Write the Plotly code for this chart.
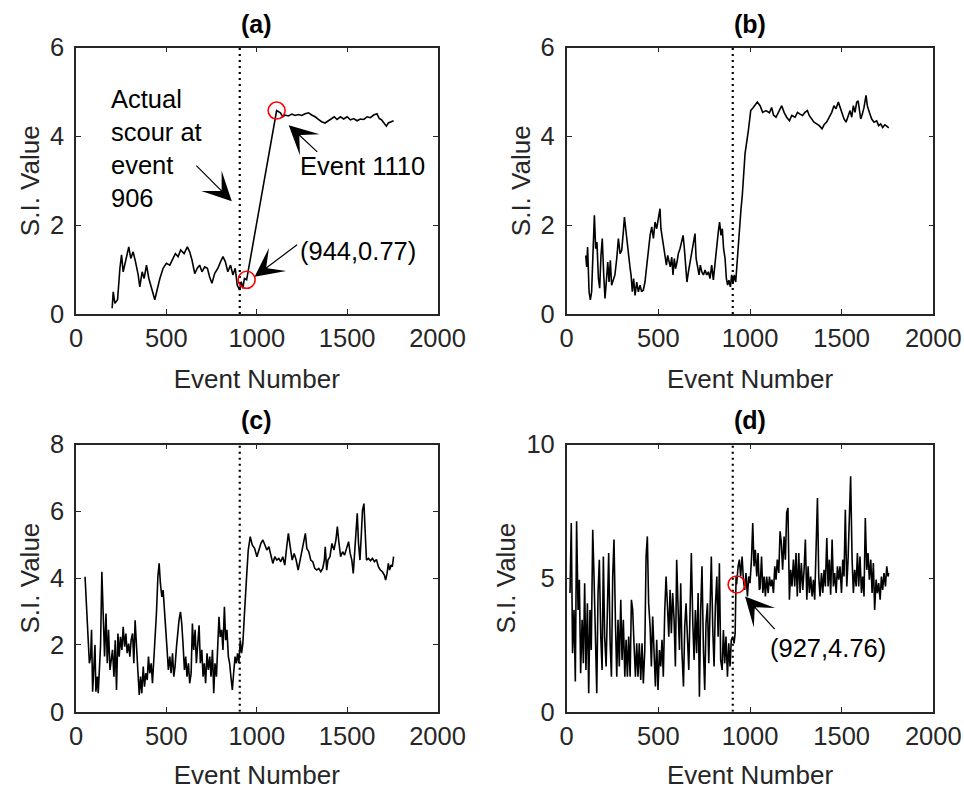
import plotly.graph_objects as go

# ---------------- data ----------------
scour_event = 906

a_x = [200, 206, 215, 230, 243, 252, 261, 274, 292, 303, 316, 329, 344, 353, 366, 377, 390, 403, 418, 436,
       451, 464, 482, 500, 519, 537, 550, 565, 579, 598, 616, 629, 642, 657, 671, 684, 697, 712, 727, 739,
       752, 767, 785, 800, 813, 826, 840, 855, 868, 881, 892, 905, 914, 923, 932, 944,
       1110, 1131, 1144, 1157, 1175, 1194, 1212, 1231, 1249, 1268, 1286, 1304, 1323, 1341, 1359, 1378, 1396,
       1415, 1429, 1444, 1463, 1481, 1500, 1518, 1536, 1555, 1573, 1592, 1610, 1629, 1647, 1665, 1678, 1691,
       1706, 1717, 1728, 1742, 1757]
a_y = [0.13, 0.50, 0.24, 0.32, 1.03, 1.33, 0.95, 1.18, 1.51, 1.25, 1.40, 1.18, 0.88, 0.61, 0.95, 0.80, 1.10, 0.80, 0.58, 0.32,
       0.58, 0.80, 1.03, 1.14, 1.10, 1.25, 1.36, 1.29, 1.44, 1.36, 1.51, 1.40, 1.21, 0.91, 1.03, 1.10, 0.95, 1.06, 1.03, 0.84,
       0.69, 0.91, 1.03, 1.18, 1.29, 1.18, 0.95, 1.10, 0.88, 1.03, 0.65, 0.54, 0.73, 0.58, 0.80, 0.77,
       4.58, 4.53, 4.44, 4.48, 4.46, 4.50, 4.47, 4.49, 4.47, 4.51, 4.53, 4.48, 4.44, 4.38, 4.33, 4.30, 4.35,
       4.40, 4.44, 4.38, 4.44, 4.39, 4.44, 4.37, 4.40, 4.35, 4.39, 4.38, 4.44, 4.42, 4.48, 4.51, 4.40, 4.37,
       4.29, 4.23, 4.30, 4.33, 4.35]

b_x = [104, 109, 114, 122, 129, 136, 143, 151, 158, 165, 173, 180, 187, 194, 202, 209, 216, 224, 231, 238,
       245, 254, 263, 273, 282, 291, 300, 309, 315, 322, 329, 336, 345, 351, 358, 365, 373, 382, 391, 400,
       409, 418, 427, 436, 445, 455, 464, 473, 482, 491, 500, 509, 514, 522, 529, 536, 544, 551, 558, 565,
       573, 580, 587, 594, 602, 609, 618, 627, 635, 642, 649, 656, 664, 673, 682, 691, 700, 706, 715, 722,
       729, 737, 746, 755, 764, 773, 782, 791, 800, 809, 818, 827, 834, 842, 849, 856, 864, 871, 878, 885,
       893, 900, 907, 914, 922, 929, 936, 944, 951, 958, 973, 991, 1004, 1018, 1040,
       1055, 1069, 1087, 1106, 1118, 1128, 1142, 1155, 1173, 1186, 1200, 1215, 1228, 1246, 1259, 1273, 1287,
       1300, 1313, 1323, 1336, 1349, 1364, 1378, 1393, 1404, 1418, 1433, 1446, 1458, 1469, 1482, 1491, 1502,
       1513, 1524, 1535, 1546, 1555, 1564, 1573, 1582, 1590, 1597, 1604, 1613, 1622, 1633, 1640, 1651, 1664,
       1677, 1691, 1702, 1713, 1724, 1735, 1746, 1757]
b_y = [1.32, 1.06, 1.51, 0.50, 0.32, 0.50, 1.32, 2.22, 1.47, 1.62, 0.80, 0.58, 1.32, 1.70, 0.88, 0.35, 0.72, 1.17, 0.72, 1.21,
       0.65, 0.80, 0.88, 1.25, 1.70, 1.36, 1.43, 1.85, 2.18, 1.92, 1.62, 1.47, 1.06, 0.88, 0.50, 0.80, 0.42, 0.72, 0.50, 0.65,
       0.50, 0.54, 0.72, 1.06, 1.47, 1.77, 1.96, 1.70, 2.07, 1.92, 2.15, 2.37, 1.92, 1.70, 1.47, 1.32, 1.10, 1.32, 1.14, 1.06,
       1.28, 0.88, 1.25, 1.02, 1.17, 1.36, 1.47, 1.62, 1.77, 1.47, 0.95, 0.72, 0.95, 1.17, 1.32, 1.62, 1.81, 1.25, 1.06, 0.88,
       1.10, 0.95, 0.88, 0.99, 0.88, 0.95, 0.80, 1.10, 0.77, 1.17, 1.62, 1.85, 2.07, 1.77, 1.92, 1.47, 1.25, 0.80, 0.65, 0.76,
       0.61, 0.88, 0.69, 0.88, 0.72, 1.17, 1.55, 2.00, 2.37, 2.67, 3.61, 4.13, 4.58, 4.65, 4.77,
       4.69, 4.54, 4.58, 4.53, 4.65, 4.48, 4.43, 4.54, 4.69, 4.54, 4.43, 4.35, 4.47, 4.43, 4.54, 4.50, 4.47,
       4.54, 4.58, 4.47, 4.39, 4.32, 4.28, 4.24, 4.17, 4.26, 4.32, 4.43, 4.54, 4.69, 4.62, 4.77, 4.65, 4.54,
       4.39, 4.32, 4.47, 4.58, 4.43, 4.69, 4.54, 4.77, 4.80, 4.54, 4.39, 4.50, 4.65, 4.92, 4.69, 4.54, 4.39,
       4.32, 4.35, 4.24, 4.28, 4.20, 4.26, 4.23, 4.19]

c_x = [50, 59, 66, 74, 81, 86, 92, 99, 105, 110, 118, 123, 129, 136, 143, 151, 158, 166, 173, 180,
       188, 195, 202, 210, 217, 224, 232, 239, 246, 254, 261, 269, 276, 283, 291, 298, 305, 313, 320, 327,
       335, 342, 350, 357, 364, 372, 379, 386, 394, 401, 408, 416, 423, 430, 438, 445, 453, 460, 467, 475,
       482, 489, 497, 504, 511, 519, 526, 534, 541, 548, 556, 563, 570, 578, 585, 592, 600, 607, 614, 622,
       629, 637, 644, 651, 659, 666, 673, 681, 688, 696, 703, 710, 717, 725, 732, 740, 747, 755, 762, 769,
       777, 784, 791, 798, 806, 813, 821, 828, 835, 843, 850, 857, 865, 872, 880, 887, 894, 901, 909, 916,
       923, 931, 938, 946, 953, 964, 975, 988, 1001, 1012, 1023, 1034, 1045, 1056, 1067, 1078, 1089, 1100,
       1111, 1122, 1133, 1144, 1155, 1166, 1175, 1185, 1196, 1207, 1218, 1229, 1240, 1251, 1262, 1269, 1277,
       1288, 1299, 1310, 1321, 1332, 1343, 1354, 1365, 1374, 1379, 1387, 1394, 1405, 1416, 1427, 1438, 1446,
       1453, 1464, 1475, 1486, 1497, 1508, 1517, 1526, 1534, 1541, 1548, 1556, 1563, 1571, 1578, 1585, 1593,
       1600, 1607, 1618, 1629, 1640, 1651, 1662, 1673, 1684, 1695, 1706, 1713, 1721, 1728, 1735, 1743, 1750, 1757]
c_y = [4.04, 3.14, 2.14, 1.45, 1.65, 2.45, 0.60, 1.25, 2.00, 0.60, 1.05, 0.55, 1.45, 2.00, 4.19, 2.45, 1.65, 2.94, 1.45, 2.45,
       1.25, 1.55, 1.85, 1.05, 2.14, 0.65, 2.34, 1.65, 2.24, 1.85, 2.54, 1.95, 2.34, 1.75, 2.04, 1.65, 2.14, 2.34, 1.45, 2.74,
       1.65, 1.25, 0.50, 1.05, 0.55, 1.35, 0.75, 1.15, 0.95, 1.65, 1.15, 1.45, 0.85, 1.45, 2.14, 2.94, 4.04, 4.44, 3.84, 3.44,
       3.64, 3.14, 2.34, 1.85, 1.25, 1.65, 1.15, 1.75, 1.05, 1.35, 1.95, 2.45, 2.74, 2.99, 2.64, 2.04, 1.25, 1.65, 1.05, 1.45,
       0.85, 1.15, 2.64, 1.85, 2.45, 1.45, 1.95, 2.59, 1.45, 1.85, 1.05, 1.45, 0.85, 1.75, 1.25, 1.65, 1.05, 1.85, 0.55, 1.45,
       1.05, 2.24, 2.84, 2.24, 2.45, 1.85, 3.14, 2.14, 2.45, 1.65, 1.45, 1.05, 0.65, 1.15, 1.65, 1.45, 1.75, 1.45, 2.14, 1.75,
       2.04, 2.84, 3.74, 4.24, 4.84, 5.24, 4.99, 4.89, 4.64, 4.84, 5.04, 5.14, 4.99, 4.84, 4.94, 4.69, 4.44, 4.64,
       4.54, 4.59, 4.49, 4.64, 4.39, 4.94, 5.34, 4.94, 4.54, 4.74, 4.54, 4.24, 4.54, 4.84, 5.09, 5.34, 4.89,
       4.79, 4.54, 4.49, 4.29, 4.24, 4.29, 4.19, 4.29, 4.54, 4.94, 4.24, 4.54, 4.64, 5.04, 4.84, 5.14, 5.54,
       5.14, 4.64, 4.79, 4.69, 4.89, 5.09, 4.74, 4.54, 4.14, 4.64, 5.24, 5.94, 5.04, 4.54, 5.24, 6.03, 6.23,
       5.14, 4.54, 4.59, 4.52, 4.59, 4.49, 4.56, 4.34, 4.24, 4.19, 4.09, 3.94, 4.14, 4.44, 4.24, 4.39, 4.34, 4.64]

d_x = [18, 25, 32, 40, 47, 54, 62, 69, 76, 84, 91, 98, 105, 113, 120, 127, 134, 142, 149, 156,
       164, 171, 178, 186, 193, 200, 207, 215, 222, 229, 237, 244, 251, 258, 266, 273, 280, 287, 295, 302,
       309, 317, 324, 331, 338, 346, 353, 360, 367, 375, 382, 389, 396, 404, 411, 418, 426, 433, 440, 447,
       455, 462, 469, 477, 484, 491, 498, 506, 513, 520, 527, 535, 542, 549, 557, 564, 571, 578, 586, 593,
       600, 608, 615, 622, 629, 637, 644, 651, 658, 666, 673, 680, 688, 695, 702, 709, 717, 724, 731, 738,
       746, 753, 760, 768, 775, 782, 789, 797, 804, 811, 819, 826, 833, 840, 848, 855, 862, 869, 877, 884,
       891, 898, 906, 913, 919, 924, 927, 935, 942, 949, 957, 964, 971, 978, 986, 993, 1000, 1008, 1015, 1022,
       1029, 1037, 1044, 1051, 1055, 1063, 1070, 1077, 1084, 1091, 1099, 1106, 1113, 1120, 1128, 1135, 1142,
       1149, 1157, 1164, 1171, 1178, 1186, 1193, 1200, 1207, 1215, 1222, 1229, 1237, 1244, 1251, 1258, 1266,
       1273, 1280, 1288, 1295, 1302, 1310, 1317, 1324, 1331, 1339, 1346, 1353, 1360, 1368, 1375, 1382, 1390,
       1397, 1404, 1411, 1419, 1426, 1433, 1440, 1448, 1455, 1462, 1470, 1477, 1484, 1491, 1499, 1506, 1513,
       1520, 1528, 1535, 1542, 1549, 1557, 1564, 1571, 1579, 1586, 1593, 1600, 1608, 1615, 1622, 1629, 1637,
       1644, 1651, 1659, 1666, 1673, 1680, 1688, 1695, 1702, 1710, 1717, 1724, 1731, 1739, 1746, 1753, 1757]
d_y = [4.44, 7.06, 2.19, 3.81, 1.13, 7.13, 3.81, 4.94, 1.44, 3.44, 1.81, 4.81, 1.56, 4.06, 0.69, 3.81, 2.31, 6.81, 5.06, 2.81,
       0.69, 4.44, 5.69, 2.81, 1.56, 5.81, 2.81, 1.69, 4.31, 5.94, 2.56, 1.31, 5.06, 6.44, 3.31, 1.31, 3.44, 1.69, 4.19, 1.94,
       3.44, 1.31, 2.69, 1.31, 2.81, 1.31, 4.19, 3.81, 2.56, 1.31, 2.56, 1.31, 2.56, 1.19, 2.56, 1.06, 2.31, 5.81, 6.56, 4.06,
       3.19, 1.69, 3.56, 2.44, 0.94, 2.69, 0.81, 2.31, 1.69, 2.69, 1.31, 3.81, 5.06, 4.06, 2.81, 4.56, 2.94, 4.44, 3.44, 1.69,
       5.69, 3.81, 2.31, 4.81, 2.19, 0.94, 3.19, 4.06, 2.56, 1.56, 3.81, 5.94, 3.31, 1.94, 3.81, 2.19, 4.44, 0.56, 3.81, 5.44,
       2.31, 0.81, 3.31, 4.06, 1.81, 4.44, 5.81, 3.06, 1.69, 3.94, 5.06, 2.81, 5.56, 1.94, 1.56, 3.06, 1.81, 2.81, 1.31, 2.56,
       1.69, 2.69, 2.81, 2.56, 2.94, 5.06, 4.76, 5.44, 5.69, 5.06, 5.81, 4.94, 4.56, 5.19, 4.31, 5.06, 4.81, 5.69, 7.06, 5.44,
       6.06, 5.06, 5.94, 4.56, 4.63, 5.81, 4.44, 5.06, 4.31, 5.06, 4.44, 5.06, 4.69, 4.94, 4.44, 5.44, 4.94,
       5.69, 5.19, 6.75, 6.31, 5.31, 6.56, 5.69, 7.44, 7.63, 4.19, 5.31, 4.69, 5.69, 4.69, 5.94, 4.31, 5.94,
       4.44, 5.56, 4.56, 5.31, 6.44, 4.19, 5.44, 4.44, 5.06, 4.31, 4.94, 4.19, 5.69, 8.00, 5.06, 4.31, 5.19,
       4.44, 5.31, 4.69, 6.50, 4.69, 5.69, 4.38, 6.44, 4.69, 5.19, 4.44, 5.44, 4.94, 5.44, 4.44, 5.69, 5.06,
       7.56, 4.69, 5.69, 6.94, 8.81, 5.69, 4.44, 5.31, 4.69, 5.94, 4.69, 5.81, 4.44, 5.06, 4.31, 7.25, 5.31,
       5.94, 4.94, 5.69, 4.44, 5.56, 3.81, 4.94, 4.44, 4.81, 4.19, 5.06, 4.56, 5.19, 4.69, 5.44, 5.06, 5.19]

x_ticks = [0, 500, 1000, 1500, 2000]
y_ticks = {"a": [0, 2, 4, 6], "b": [0, 2, 4, 6], "c": [0, 2, 4, 6, 8], "d": [0, 5, 10]}
y_max = {"a": 6, "b": 6, "c": 8, "d": 10}
panel_titles = ["(a)", "(b)", "(c)", "(d)"]
marked_a = ([944, 1110], [0.77, 4.58])
marked_d = ([927], [4.76])

# ---------------- figure ----------------
FONT = "Liberation Sans, Arial, sans-serif"
AX_COL = "#262626"

W, H = 964, 790


def px_x(px):
    return px / W


def px_y(py):
    return 1 - py / H


fig = go.Figure()

series = [("a", a_x, a_y, "x", "y"), ("b", b_x, b_y, "x2", "y2"),
          ("c", c_x, c_y, "x3", "y3"), ("d", d_x, d_y, "x4", "y4")]

for key, xs, ys, xr, yr in series:
    fig.add_trace(go.Scatter(x=xs, y=ys, mode="lines", line=dict(color="black", width=1.6),
                             xaxis=xr, yaxis=yr, showlegend=False, hoverinfo="skip"))
    fig.add_trace(go.Scatter(x=[scour_event, scour_event], y=[0, y_max[key]], mode="lines",
                             line=dict(color="black", width=2.2, dash="2px,4px"),
                             xaxis=xr, yaxis=yr, showlegend=False, hoverinfo="skip"))

fig.add_trace(go.Scatter(x=marked_a[0], y=marked_a[1], mode="markers",
                         marker=dict(symbol="circle-open", size=17, color="red", line=dict(width=1.6, color="red")),
                         xaxis="x", yaxis="y", showlegend=False, hoverinfo="skip"))
fig.add_trace(go.Scatter(x=marked_d[0], y=marked_d[1], mode="markers",
                         marker=dict(symbol="circle-open", size=17, color="red", line=dict(width=1.6, color="red")),
                         xaxis="x4", yaxis="y4", showlegend=False, hoverinfo="skip"))

xdom_l = [px_x(76), px_x(437.5)]
xdom_r = [px_x(566.7), px_x(933.3)]
ydom_t = [px_y(314), px_y(47.5)]
ydom_b = [px_y(711.7), px_y(444.5)]

common_axis = dict(showline=True, linecolor=AX_COL, linewidth=1.6, mirror="ticks", ticks="inside",
                   ticklen=5, tickwidth=1.2, tickcolor=AX_COL, showgrid=False, zeroline=False,
                   automargin=False, ticklabeloverflow="allow",
                   tickfont=dict(family=FONT, size=25.5, color=AX_COL))

layout = dict(width=W, height=H, autosize=False, margin=dict(l=0, r=0, t=0, b=0),
              paper_bgcolor="white", plot_bgcolor="white", showlegend=False)

axes_specs = [("", xdom_l, ydom_t, "a"), ("2", xdom_r, ydom_t, "b"),
              ("3", xdom_l, ydom_b, "c"), ("4", xdom_r, ydom_b, "d")]
for suf, xd, yd, key in axes_specs:
    layout["xaxis" + suf] = dict(common_axis, domain=xd, range=[0, 2000], tickvals=x_ticks,
                                 anchor="y" + suf, ticklabelstandoff=1,
                                 title=dict(text="Event Number", standoff=18,
                                            font=dict(family=FONT, size=26, color=AX_COL)))
    layout["yaxis" + suf] = dict(common_axis, domain=yd, range=[0, y_max[key]], tickvals=y_ticks[key],
                                 anchor="x" + suf, ticklabelstandoff=5,
                                 title=dict(text="S.I. Value", standoff=3,
                                            font=dict(family=FONT, size=26, color=AX_COL)))

fig.update_layout(**layout)

annotations = []
title_pos = [((xdom_l[0] + xdom_l[1]) / 2, px_y(24)), ((xdom_r[0] + xdom_r[1]) / 2, px_y(24)),
             ((xdom_l[0] + xdom_l[1]) / 2, px_y(420)), ((xdom_r[0] + xdom_r[1]) / 2, px_y(420))]
for t, (px, py) in zip(panel_titles, title_pos):
    annotations.append(dict(text="<b>%s</b>" % t, x=px, y=py, xref="paper", yref="paper",
                            showarrow=False, xanchor="center", yanchor="middle",
                            font=dict(family=FONT, size=25, color="black")))

txt_font = dict(family=FONT, size=25.5, color="black")
annotations += [
    dict(text="Actual<br>scour at<br>event<br>906", x=185, y=3.73, xref="x", yref="y", showarrow=False,
         xanchor="left", yanchor="middle", align="left", font=txt_font),
    dict(text="Event 1110", x=1228, y=3.33, xref="x", yref="y", showarrow=False,
         xanchor="left", yanchor="middle", font=txt_font),
    dict(text="(944,0.77)", x=1228, y=1.42, xref="x", yref="y", showarrow=False,
         xanchor="left", yanchor="middle", font=txt_font),
    dict(text="(927,4.76)", x=1100, y=2.39, xref="x4", yref="y4", showarrow=False,
         xanchor="left", yanchor="middle", font=txt_font),
]
arrow_style = dict(showarrow=True, arrowhead=3, arrowsize=4.0, arrowwidth=1.2, arrowcolor="black",
                   standoff=0, text="")
annotations += [
    dict(arrow_style, x=862, y=2.54, xref="x", yref="y", ax=-37, ay=-37),
    dict(arrow_style, x=1177, y=4.25, xref="x", yref="y", ax=30, ay=28),
    dict(arrow_style, x=988, y=0.84, xref="x", yref="y", ax=44, ay=-33),
    dict(arrow_style, x=973, y=4.31, xref="x4", yref="y4", ax=31, ay=34),
]
fig.update_layout(annotations=annotations)

# remove the default 8px page margin so the 964x790 figure fills the window exactly
fig.write_html("out.html", config={"displayModeBar": False},
               post_script="document.body.style.margin='0';")
